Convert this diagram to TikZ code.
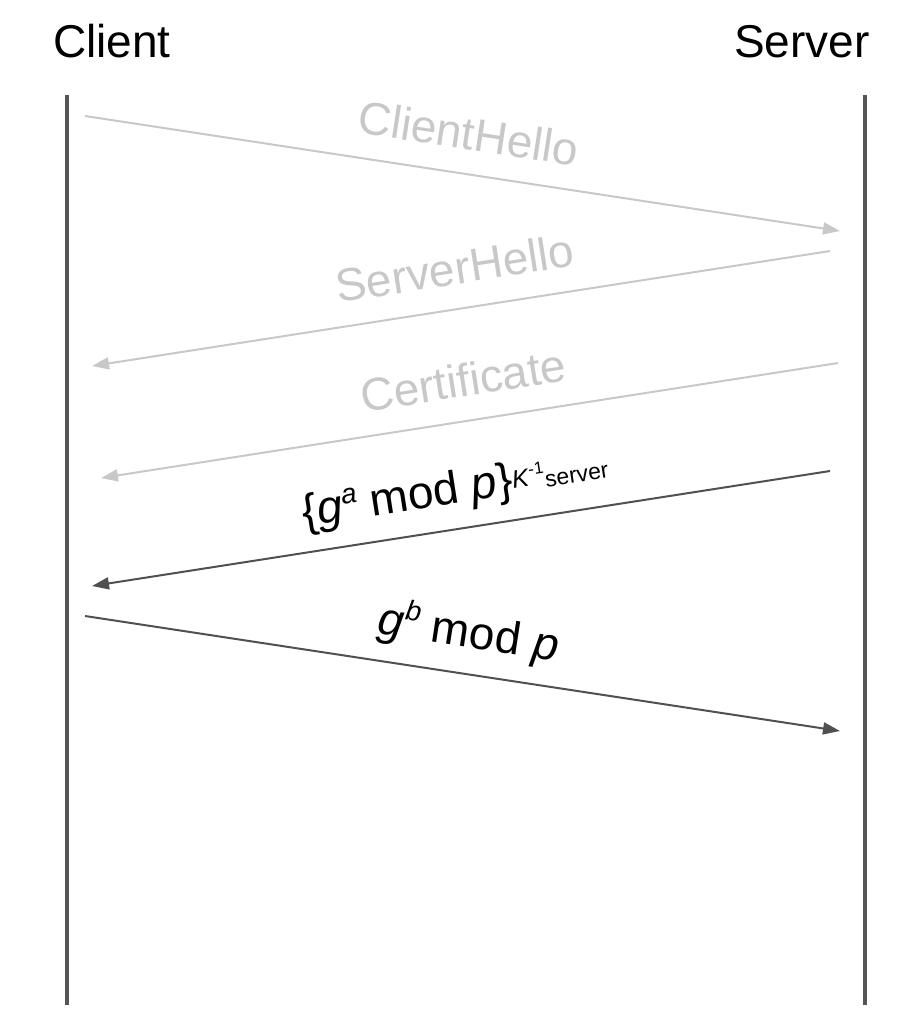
\documentclass[tikz,border=0pt]{standalone}
\usepackage{fontspec}
\setmainfont{Liberation Sans}
\usetikzlibrary{arrows.meta}
\definecolor{lifegray}{HTML}{555555}
\definecolor{fadegray}{HTML}{C8C8C8}
\definecolor{msggray}{HTML}{505050}
\newcommand{\supsc}[2]{\raisebox{#1}{\fontsize{28}{32}\selectfont\textit{#2}}}

\begin{document}
\begin{tikzpicture}[x=1pt, y=-1pt,
		lifeline/.style={line width=4pt, lifegray},
		oldmsg/.style={line width=2pt, fadegray, -{Triangle[length=17pt, width=12pt]}},
		newmsg/.style={line width=2pt, msggray, -{Triangle[length=17pt, width=12pt]}},
		msglabel/.style={midway, sloped, above=#1},
		every node/.style={font=\fontsize{46}{54}\selectfont, inner sep=0pt}]
		\useasboundingbox (0, 0) rectangle (923, 1018);

		\node [anchor=base] (client) at (112, 57) {Client};
		\node [anchor=base] (server) at (802, 57) {Server};

		\coordinate (ctop) at (67, 95);
		\coordinate (cbot) at (67, 1005);
		\coordinate (stop) at (865, 95);
		\coordinate (sbot) at (865, 1005);
		\draw [lifeline] (ctop) -- (cbot);
		\draw [lifeline] (stop) -- (sbot);

		\coordinate (chfrom) at (85, 116);
		\coordinate (chto) at (840, 231);
		\coordinate (shfrom) at (830, 251);
		\coordinate (shto) at (92, 366);
		\coordinate (certfrom) at (838, 363);
		\coordinate (certto) at (101, 478);
		\coordinate (gafrom) at (830, 471);
		\coordinate (gato) at (92, 586);
		\coordinate (gbfrom) at (85, 616);
		\coordinate (gbto) at (840, 731);

		\draw [oldmsg] (chfrom) -- node [msglabel=23pt] (chlabel) {ClientHello} (chto);
		\draw [oldmsg] (shfrom) -- node [msglabel=23pt] (shlabel) {ServerHello} (shto);
		\draw [oldmsg] (certfrom) -- node [msglabel=23pt] (certlabel) {Certificate} (certto);
		\draw [newmsg] (gafrom) -- node [msglabel=15pt, text=black] (galabel)
			{\{\textit{g}\supsc{16pt}{a} mod \textit{p}\}{\fontsize{25}{30}\selectfont\raisebox{6pt}{\textit{K}}\raisebox{16pt}{\fontsize{17}{20}\selectfont -1}\raisebox{2pt}{\fontsize{23}{28}\selectfont server}}} (gato);
		\draw [newmsg] (gbfrom) -- node [msglabel=16pt, text=black] (gblabel)
			{\textit{g}\supsc{18pt}{b} mod \textit{p}} (gbto);
	\end{tikzpicture}
\end{document}
